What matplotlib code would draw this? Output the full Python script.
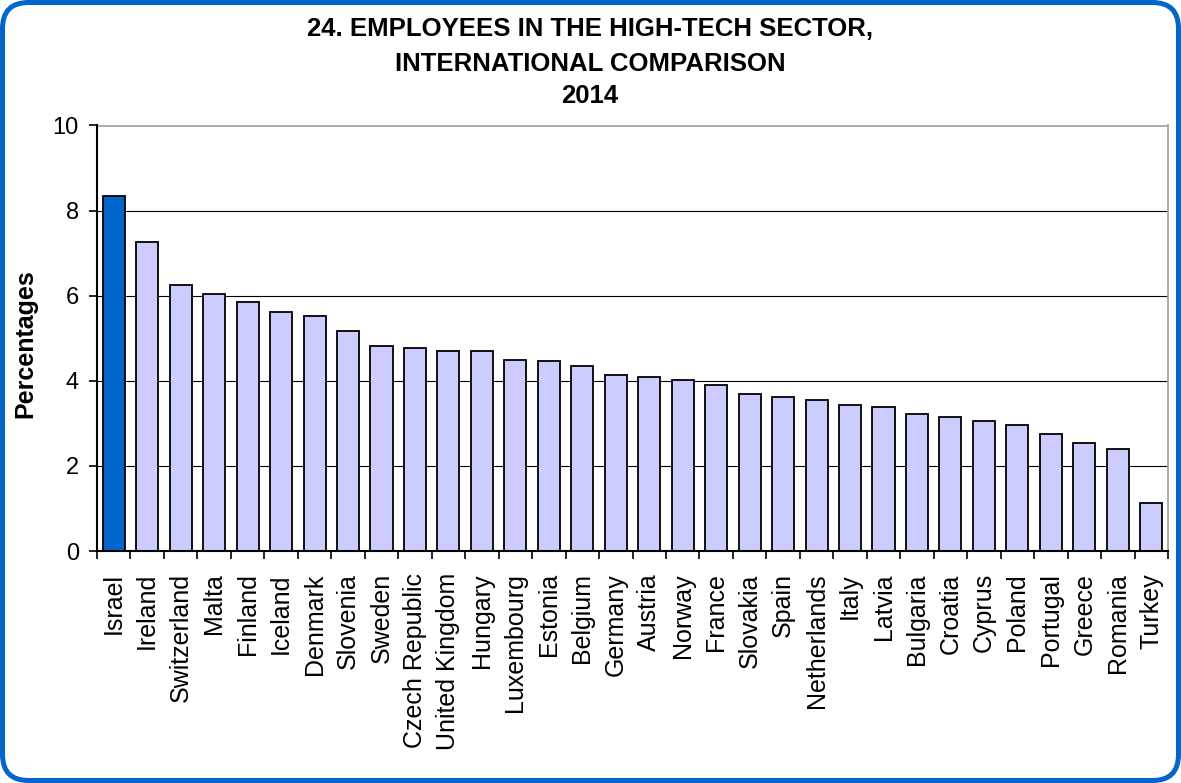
import matplotlib
matplotlib.use("Agg")
import matplotlib.pyplot as plt
from matplotlib.patches import FancyBboxPatch
from matplotlib.ticker import FixedLocator, NullFormatter

plt.rcParams['font.family'] = ['Liberation Sans', 'DejaVu Sans']

countries = [
    "Israel", "Ireland", "Switzerland", "Malta", "Finland", "Iceland",
    "Denmark", "Slovenia", "Sweden", "Czech Republic", "United Kingdom",
    "Hungary", "Luxembourg", "Estonia", "Belgium", "Germany", "Austria",
    "Norway", "France", "Slovakia", "Spain", "Netherlands", "Italy",
    "Latvia", "Bulgaria", "Croatia", "Cyprus", "Poland", "Portugal",
    "Greece", "Romania", "Turkey",
]
percentages = [
    8.34, 7.27, 6.24, 6.05, 5.86, 5.62, 5.53, 5.16, 4.82, 4.78, 4.69,
    4.69, 4.50, 4.46, 4.35, 4.13, 4.08, 4.03, 3.89, 3.70, 3.61, 3.56,
    3.42, 3.38, 3.23, 3.14, 3.05, 2.95, 2.76, 2.54, 2.39, 1.12,
]
highlight = "Israel"
y_ticks = [0, 2, 4, 6, 8, 10]
title_lines = [
    "24. EMPLOYEES IN THE HIGH-TECH SECTOR,",
    "INTERNATIONAL COMPARISON",
    "2014",
]
y_label = "Percentages"

W, H = 1181, 783
fig = plt.figure(figsize=(W / 100, H / 100), dpi=100)
fig.patch.set_facecolor("white")

# plot area in pixel terms
left, right, top, bottom = 97, 1168, 125.5, 551
ax = fig.add_axes([left / W, (H - bottom) / H, (right - left) / W, (bottom - top) / H])

x = list(range(len(countries)))
colors = ["#0066CC" if c == highlight else "#CCCCFF" for c in countries]
ax.bar(x, percentages, width=0.66, color=colors, edgecolor="black",
       linewidth=1.3, zorder=3)

ax.set_xlim(-0.5, len(countries) - 0.5)
ax.set_ylim(0, 10)

# horizontal gridlines
ax.set_yticks(y_ticks)
ax.yaxis.grid(True, color="black", linewidth=0.8, zorder=0)
ax.set_axisbelow(True)

# y axis styling
ax.tick_params(axis="y", which="major", direction="out", length=6,
               width=1.2, pad=7, labelsize=17, color="black")
ax.set_yticklabels([str(v) for v in y_ticks])

# x axis: labels at bar centers, tick marks at category boundaries
ax.set_xticks(x)
ax.set_xticklabels(countries, rotation=90, fontsize=18, ha="center", va="top")
ax.tick_params(axis="x", which="major", length=0, pad=16)
ax.xaxis.set_minor_locator(FixedLocator([i - 0.5 for i in range(len(countries) + 1)]))
ax.xaxis.set_minor_formatter(NullFormatter())
ax.tick_params(axis="x", which="minor", direction="out", length=6,
               width=1.2, color="black")

for side in ("left", "bottom"):
    ax.spines[side].set_color("black")
    ax.spines[side].set_linewidth(1.5)
    ax.spines[side].set_zorder(4)
for side in ("top", "right"):
    ax.spines[side].set_color("#A0A0A0")
    ax.spines[side].set_linewidth(1.2)

# axis label
fig.text(25 / W, 1 - 344 / H, y_label, rotation=90, ha="center", va="center",
         fontsize=18, fontweight="bold")

# title lines
baselines = [36, 71, 103]
for line, b in zip(title_lines, baselines):
    fig.text(590 / W, 1 - b / H, line, ha="center", va="baseline",
             fontsize=18.5, fontweight="bold")

# rounded frame around the whole figure
frame = FancyBboxPatch((2.5 / 100, 2.5 / 100), (W - 5) / 100, (H - 5) / 100,
                       boxstyle="round,pad=0,rounding_size=0.26",
                       transform=fig.dpi_scale_trans, facecolor="none",
                       edgecolor="#0066CC", linewidth=3.6, zorder=10)
fig.add_artist(frame)

fig.savefig("out.png", dpi=100, facecolor="white")
